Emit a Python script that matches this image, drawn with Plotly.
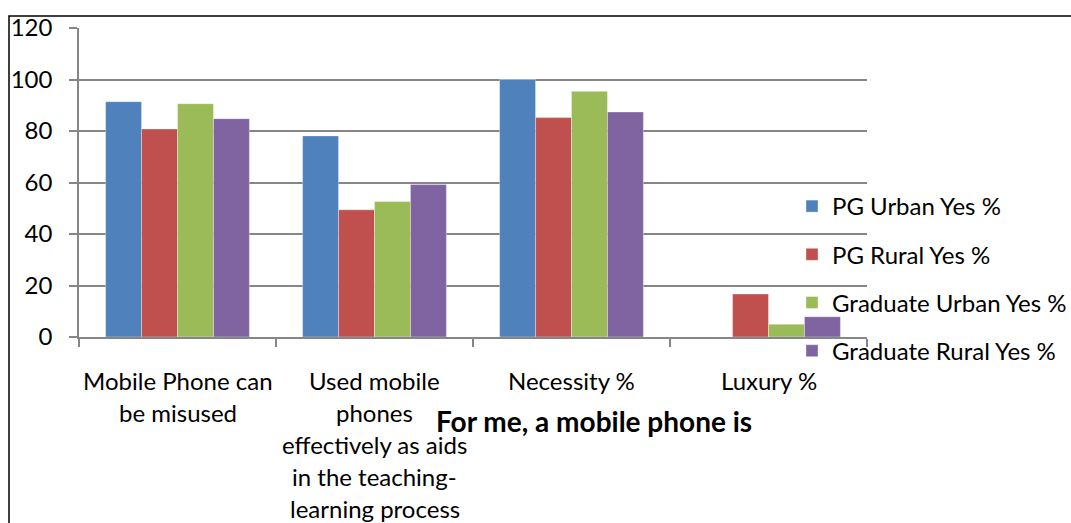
import plotly.graph_objects as go

categories = [
    "Mobile Phone can\nbe misused",
    "Used mobile\nphones\neffectively as aids\nin the teaching-\nlearning process",
    "Necessity %",
    "Luxury %",
]
series_names = ["PG Urban Yes %", "PG Rural Yes %", "Graduate Urban Yes %", "Graduate Rural Yes %"]
pg_urban = [91.4, 78.1, 100, 0]
pg_rural = [80.8, 49.4, 85.2, 16.7]
grad_urban = [90.6, 52.6, 95.4, 5.0]
grad_rural = [84.8, 59.2, 87.4, 7.9]
colors = ["#4F81BD", "#C0504D", "#9BBB59", "#8064A2"]
y_ticks = [0, 20, 40, 60, 80, 100, 120]
x_title = "For me, a mobile phone is"

FONT = "Lato"
FS = 24
W, H = 1071, 523
ML, MR, MT, MB = 79, 204, 28, 186
PW = W - ML - MR
PH = H - MT - MB

fig = go.Figure()
keys = [f"c{i}" for i in range(len(categories))]
for i, (name, vals) in enumerate(zip(series_names, [pg_urban, pg_rural, grad_urban, grad_rural])):
    fig.add_trace(go.Bar(
        x=keys, y=vals, name=name, legendgroup=name,
        marker=dict(color=colors[i], line=dict(width=0.6, color="rgba(255,255,255,0.6)")),
    ))

annotations = []
for i, cat in enumerate(categories):
    for j, line in enumerate(cat.split("\n")):
        annotations.append(dict(
            x=keys[i], xref="x", y=0, yref="paper", yanchor="middle", xanchor="center",
            yshift=-(43 + 32 * j), text=line, showarrow=False,
            font=dict(family=FONT, size=FS, color="#000000"),
        ))
annotations.append(dict(
    x=(594 - ML) / PW, xref="paper", y=(337 - 421) / PH, yref="paper",
    xanchor="center", yanchor="middle", text="<b>" + x_title + "</b>", showarrow=False,
    font=dict(family=FONT, size=28, color="#000000"),
))

fig.update_layout(
    width=W, height=H,
    margin=dict(l=ML, r=MR, t=MT, b=MB, pad=0, autoexpand=False),
    paper_bgcolor="white", plot_bgcolor="white",
    barmode="group", bargap=0.27, bargroupgap=0,
    font=dict(family=FONT, size=FS, color="#000000"),
    showlegend=True,
    legend=dict(
        x=(792 - ML) / PW, xanchor="left", y=(337 - 184) / PH, yanchor="top",
        bgcolor="rgba(0,0,0,0)", tracegroupgap=14, traceorder="grouped",
        font=dict(family=FONT, size=FS, color="#000000"),
    ),
    annotations=annotations,
    shapes=[dict(
        type="rect", xref="paper", yref="paper",
        x0=(9 - ML) / PW, x1=(W + 20 - ML) / PW,
        y0=(337 - (H + 20)) / PH, y1=(337 - 16) / PH,
        line=dict(color="#000000", width=1.5), layer="below",
    )],
)
fig.update_xaxes(
    type="category", showgrid=False, showline=True, linecolor="#868686", linewidth=1.5,
    ticks="outside", ticklen=8, tickcolor="#868686", tickwidth=1.5, tickson="boundaries",
    showticklabels=False, range=[-0.5, 3.5],
)
fig.update_yaxes(
    range=[0, 120], tickvals=y_ticks, showgrid=True, gridcolor="#868686", gridwidth=1.5,
    showline=True, linecolor="#868686", linewidth=1.5, ticks="outside", ticklen=8,
    tickcolor="#868686", tickwidth=1.5, zeroline=False,
    tickfont=dict(family=FONT, size=FS, color="#000000"), ticklabelstandoff=12,
)

fig.write_html("out.html")
